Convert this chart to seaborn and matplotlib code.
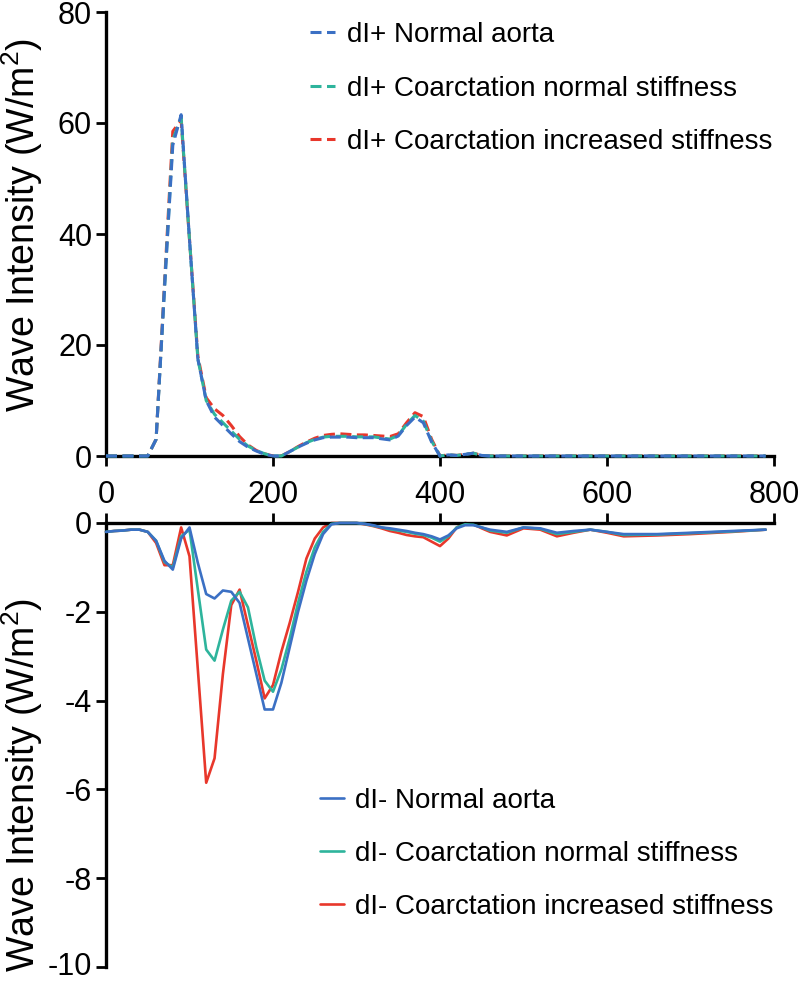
import numpy as np
import pandas as pd
import matplotlib
matplotlib.use("Agg")
import matplotlib.pyplot as plt
import seaborn as sns

# ---- data ----
time_ms = list(range(0, 470, 10)) + [480, 500, 520, 540, 560, 580, 600, 620, 660, 700, 750, 790]

di_plus_normal = [0, 0, 0, 0, 0, 0, 3, 30, 56, 61.5, 39, 17.5, 10, 7, 5.5, 4, 2.6, 1.6, 0.9, 0.3,
                  0, 0, 0.8, 1.6, 2.3, 2.9, 3.3, 3.4, 3.4, 3.4, 3.3, 3.3, 3.3, 3.1, 2.9, 3.6, 5.5, 7.0,
                  6.0, 2.5, 0, 0.2, 0.1, 0.3, 0.5, 0.1, 0,
                  0, 0, 0, 0, 0, 0, 0, 0, 0, 0, 0, 0]
di_plus_coarc_normal = [0, 0, 0, 0, 0, 0, 3, 30, 57, 61, 39, 17.5, 10, 7.5, 6, 4.5, 3.0, 1.8, 1.0, 0.4,
                        0, 0, 0.8, 1.6, 2.4, 3.0, 3.4, 3.55, 3.55, 3.55, 3.45, 3.45, 3.45, 3.25, 3.05, 3.7, 5.7, 7.3,
                        6.3, 2.7, 0, 0.2, 0.1, 0.3, 0.5, 0.1, 0,
                        0, 0, 0, 0, 0, 0, 0, 0, 0, 0, 0, 0]
di_plus_coarc_stiff = [0, 0, 0, 0, 0, 0, 3, 31, 58.5, 60.5, 39, 18, 10.5, 8.5, 7.3, 5.5, 3.5, 2.0, 1.0, 0.4,
                       0, 0, 0.8, 1.7, 2.5, 3.2, 3.7, 3.9, 4.0, 3.9, 3.8, 3.8, 3.7, 3.6, 3.5, 4.0, 6.0, 7.8,
                       7.1, 3.0, 0, 0.2, 0.1, 0.3, 0.5, 0.1, 0,
                       0, 0, 0, 0, 0, 0, 0, 0, 0, 0, 0, 0]

di_minus_normal = [-0.2, -0.18, -0.17, -0.15, -0.15, -0.2, -0.4, -0.85, -1.05, -0.35, -0.1, -0.9, -1.6, -1.7,
                   -1.52, -1.55, -1.8, -2.6, -3.4, -4.2, -4.2, -3.6, -2.8, -2.0, -1.3, -0.7, -0.25, -0.03,
                   0, 0, 0, -0.02, -0.05, -0.1, -0.12, -0.15, -0.18, -0.22, -0.25, -0.3, -0.37, -0.28,
                   -0.12, -0.05, -0.05, -0.1, -0.15,
                   -0.2, -0.1, -0.12, -0.22, -0.18, -0.15, -0.2, -0.25, -0.25, -0.22, -0.18, -0.15]
di_minus_coarc_normal = [-0.2, -0.18, -0.17, -0.15, -0.15, -0.2, -0.4, -0.88, -1.0, -0.3, -0.15, -1.5, -2.85, -3.1,
                         -2.4, -1.75, -1.55, -1.9, -2.8, -3.55, -3.8, -3.3, -2.6, -1.8, -1.1, -0.55, -0.2, -0.02,
                         0, 0, 0, -0.02, -0.06, -0.1, -0.14, -0.17, -0.2, -0.24, -0.27, -0.33, -0.42, -0.3,
                         -0.1, -0.03, -0.04, -0.1, -0.17,
                         -0.22, -0.1, -0.13, -0.25, -0.2, -0.15, -0.2, -0.27, -0.26, -0.23, -0.19, -0.15]
di_minus_coarc_stiff = [-0.2, -0.18, -0.17, -0.15, -0.15, -0.2, -0.45, -0.95, -0.95, -0.1, -0.75, -3.3, -5.85, -5.3,
                        -3.4, -1.85, -1.5, -2.3, -3.1, -3.95, -3.65, -2.9, -2.25, -1.55, -0.8, -0.35, -0.1, 0,
                        0, 0, 0, -0.03, -0.07, -0.12, -0.18, -0.22, -0.27, -0.3, -0.32, -0.42, -0.52, -0.35,
                        -0.1, 0, -0.03, -0.12, -0.2,
                        -0.28, -0.12, -0.15, -0.3, -0.22, -0.15, -0.22, -0.3, -0.28, -0.25, -0.2, -0.15]

top_labels = ["dI+ Normal aorta", "dI+ Coarctation normal stiffness", "dI+ Coarctation increased stiffness"]
bottom_labels = ["dI- Normal aorta", "dI- Coarctation normal stiffness", "dI- Coarctation increased stiffness"]
x_ticks = [0, 200, 400, 600, 800]
top_yticks = [0, 20, 40, 60, 80]
bottom_yticks = [0, -2, -4, -6, -8, -10]
ylabel_text = "Wave Intensity (W/m$^2$)"

# ---- style ----
sns.set_theme(style="ticks")
plt.rcParams["font.family"] = ["Liberation Sans", "DejaVu Sans"]
plt.rcParams["axes.unicode_minus"] = False
plt.rcParams["mathtext.fontset"] = "custom"
plt.rcParams["mathtext.rm"] = "Liberation Sans"
plt.rcParams["text.color"] = "black"
plt.rcParams["axes.labelcolor"] = "black"

colors = ["#3b70c4", "#2eb49c", "#e8372b"]
zorders = [4, 3, 2]

W, H = 800, 982
fig = plt.figure(figsize=(W / 100, H / 100), dpi=100)
ax1 = fig.add_axes([106 / W, 1 - 456 / H, 668 / W, 444 / H])
ax2 = fig.add_axes([106 / W, 1 - 967 / H, 668 / W, 444 / H])

top_series = [di_plus_normal, di_plus_coarc_normal, di_plus_coarc_stiff]
bot_series = [di_minus_normal, di_minus_coarc_normal, di_minus_coarc_stiff]

for vals, lab, c, z in zip(top_series, top_labels, colors, zorders):
    df = pd.DataFrame({"t": time_ms, "v": vals})
    sns.lineplot(data=df, x="t", y="v", ax=ax1, color=c, label=lab, linewidth=2.2,
                 linestyle=(0, (3.6, 1.8)), estimator=None, zorder=z, clip_on=False)
for vals, lab, c, z in zip(bot_series, bottom_labels, colors, zorders):
    df = pd.DataFrame({"t": time_ms, "v": vals})
    sns.lineplot(data=df, x="t", y="v", ax=ax2, color=c, label=lab, linewidth=1.9,
                 estimator=None, zorder=z, clip_on=False)

tick_font = {"family": ["Liberation Sans", "DejaVu Sans"], "size": 22}

for ax in (ax1, ax2):
    ax.set_xlim(0, 800)
    ax.set_xticks(x_ticks)
    for s in ax.spines.values():
        s.set_linewidth(2.4)
        s.set_color("black")
    ax.tick_params(width=2, length=7, color="black", labelcolor="black")
    ax.set_xlabel("")

ax1.set_ylim(0, 80)
ax1.set_yticks(top_yticks)
ax1.spines["top"].set_visible(False)
ax1.spines["right"].set_visible(False)
ax1.set_xticklabels([str(v) for v in x_ticks], fontdict=tick_font)
ax1.set_yticklabels([str(v) for v in top_yticks], fontdict=tick_font)
ax1.tick_params(axis="x", pad=10)
ax1.tick_params(axis="y", pad=3)

ax2.set_ylim(-10, 0)
ax2.set_yticks(bottom_yticks)
ax2.spines["bottom"].set_visible(False)
ax2.spines["right"].set_visible(False)
ax2.spines["top"].set_visible(True)
ax2.xaxis.tick_top()
ax2.tick_params(axis="x", labeltop=False, labelbottom=False, top=True, bottom=False)
ax2.set_yticklabels([str(v) for v in bottom_yticks], fontdict=tick_font)
ax2.get_yticklabels()[-1].set_verticalalignment("center")
ax2.tick_params(axis="y", pad=3)

ax1.set_ylabel(ylabel_text, fontsize=27, color="black")
ax2.set_ylabel(ylabel_text, fontsize=27, color="black")
ax1.yaxis.set_label_coords(-0.092, 0.52)
ax2.yaxis.set_label_coords(-0.092, 0.41)

# legends
h1, l1 = ax1.get_legend_handles_labels()
leg1 = ax1.legend(h1, l1, loc="upper left", bbox_to_anchor=(310 / W, 1 - 22 / H),
                  bbox_transform=fig.transFigure, frameon=False, fontsize=20,
                  handlelength=0.9, handletextpad=0.42, labelspacing=0.99, borderpad=0, borderaxespad=0)
h2, l2 = ax2.get_legend_handles_labels()
leg2 = ax2.legend(h2, l2, loc="upper left", bbox_to_anchor=(320 / W, 1 - 788 / H),
                  bbox_transform=fig.transFigure, frameon=False, fontsize=20,
                  handlelength=0.85, handletextpad=0.42, labelspacing=0.97, borderpad=0, borderaxespad=0)
for leg in (leg1, leg2):
    for t in leg.get_texts():
        t.set_color("black")

fig.savefig("out.png", dpi=100)
